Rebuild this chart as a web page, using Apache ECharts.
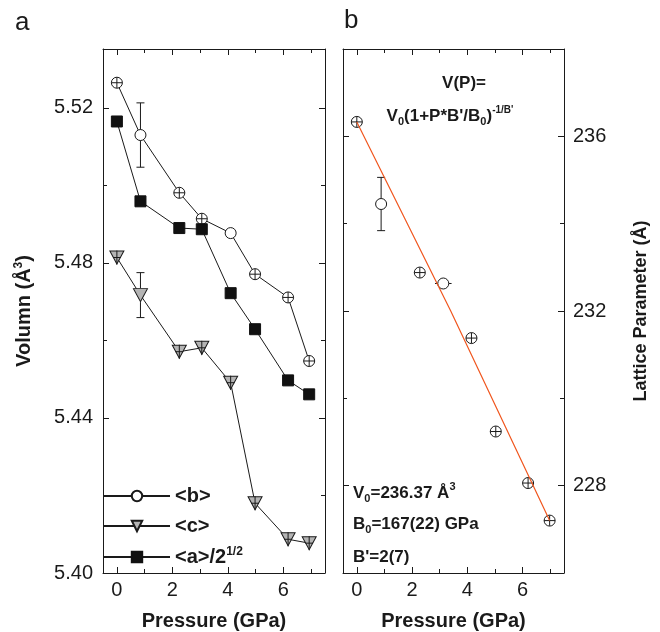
<!DOCTYPE html>
<html>
<head>
<meta charset="utf-8">
<script src="https://cdn.jsdelivr.net/npm/echarts@6/dist/echarts.min.js"></script>
<style>
html,body{margin:0;padding:0;background:#fff;}
#chart{width:660px;height:632px;}
</style>
</head>
<body>
<div id="chart"></div>
<script>
// ---- data (panel a) ----
const pressureA = [0, 0.85, 2.25, 3.06, 4.1, 4.98, 6.17, 6.93];
const bAxis = [5.5265, 5.5130, 5.4981, 5.4914, 5.4877, 5.4771, 5.4711, 5.4547];
const bErr  = [0.0014, 0.0083, 0.0014, 0.0014, 0, 0.0014, 0.0014, 0.0014];
const bPErr = [0.2, 0, 0.2, 0.2, 0, 0.2, 0.2, 0.2];
const cAxis = [5.4814, 5.4717, 5.4571, 5.4581, 5.4491, 5.4180, 5.4087, 5.4077];
const cErr  = [0.0018, 0.0058, 0.0018, 0.0018, 0.0018, 0.0018, 0.0018, 0.0018];
const cPErr = [0.14, 0, 0.14, 0.14, 0.14, 0.14, 0.14, 0.14];
const aAxis = [5.5165, 5.4959, 5.4890, 5.4887, 5.4722, 5.4629, 5.4497, 5.4461];
// ---- data (panel b) ----
const pressureV = [0, 0.88, 2.28, 3.13, 4.15, 5.03, 6.2, 6.98];
const volume    = [236.33, 234.45, 232.88, 232.63, 231.38, 229.24, 228.06, 227.2];
const volErr    = [0.12, 0.61, 0.12, 0, 0.12, 0.12, 0.12, 0.12];
const volPErr   = [0.2, 0, 0.2, 0.3, 0.2, 0.2, 0.2, 0.2];
const fitP = [0, 3.4, 6.98];
const fitV = [236.33, 232.0, 227.2];
// ---- tick labels ----
const leftYTicks = [5.40, 5.44, 5.48, 5.52];
const xTickLabels = [0, 2, 4, 6];

const FONT = '"Liberation Sans", Arial, Helvetica, sans-serif';
const INK = '#1a1a1a';

const zip = (xs, ys) => xs.map((x, i) => [x, ys[i]]);
const zip4 = (xs, ys, es, ps) => xs.map((x, i) => [x, ys[i], es[i], ps[i]]);

function errRender(r) {
  return function (params, api) {
    const x = api.value(0), y = api.value(1), ey = api.value(2), ex = api.value(3);
    const c = api.coord([x, y]);
    const st = { stroke: INK, lineWidth: 1, fill: null };
    const ch = [];
    const ln = (x1, y1, x2, y2) => ch.push({ type: 'line', shape: { x1, y1, x2, y2 }, style: st });
    if (ey > 0) {
      const top = api.coord([x, y + ey])[1];
      const bot = api.coord([x, y - ey])[1];
      const h = c[1] - top;
      if (h > r + 1) {
        ln(c[0], c[1] - r, c[0], top);
        ln(c[0], c[1] + r, c[0], bot);
        ln(c[0] - 4, top, c[0] + 4, top);
        ln(c[0] - 4, bot, c[0] + 4, bot);
      } else {
        ln(c[0], top, c[0], bot);
      }
    }
    if (ex > 0) {
      const lx = api.coord([x - ex, y])[0];
      const rx = api.coord([x + ex, y])[0];
      const w = c[0] - lx;
      if (w > r + 1) {
        ln(lx, c[1], c[0] - r, c[1]);
        ln(c[0] + r, c[1], rx, c[1]);
      } else {
        ln(lx, c[1], rx, c[1]);
      }
    }
    return { type: 'group', children: ch };
  };
}

const axisLineStyle = { color: INK, width: 1 };
function xAx(grid, pos, labels) {
  return {
    type: 'value', gridIndex: grid, position: pos, min: -0.5, max: 7.5,
    minInterval: 2, maxInterval: 2,
    axisLine: { show: true, onZero: false, lineStyle: axisLineStyle },
    axisTick: { show: true, inside: true, length: 6, lineStyle: axisLineStyle },
    minorTick: { show: true, splitNumber: 2, length: 4, lineStyle: axisLineStyle },
    splitLine: { show: false }, minorSplitLine: { show: false },
    axisLabel: {
      show: labels, showMinLabel: false, showMaxLabel: false, margin: 7,
      fontFamily: FONT, fontSize: 20, color: INK,
      formatter: v => (xTickLabels.indexOf(Math.round(v)) >= 0 && Math.abs(v - Math.round(v)) < 1e-6) ? String(Math.round(v)) : ''
    },
    name: labels ? 'Pressure (GPa)' : '', nameLocation: 'middle', nameGap: 38,
    nameTextStyle: { fontFamily: FONT, fontSize: 20, fontWeight: 'bold', color: INK }
  };
}

const option = {
  animation: false,
  backgroundColor: '#fff',
  grid: [
    { left: 103, top: 49, width: 222, height: 524, outerBoundsMode: 'none' },
    { left: 343, top: 49, width: 221, height: 524, outerBoundsMode: 'none' }
  ],
  xAxis: [xAx(0, 'bottom', true), xAx(0, 'top', false), xAx(1, 'bottom', true), xAx(1, 'top', false)],
  yAxis: [
    {
      type: 'value', gridIndex: 0, position: 'left', min: 5.40, max: 5.5352, interval: 0.04,
      axisLine: { show: true, onZero: false, lineStyle: axisLineStyle },
      axisTick: { show: true, inside: true, length: 6, lineStyle: axisLineStyle },
      minorTick: { show: true, splitNumber: 2, length: 4, lineStyle: axisLineStyle },
      splitLine: { show: false },
      axisLabel: {
        showMaxLabel: false, margin: 10, fontFamily: FONT, fontSize: 20, color: INK,
        formatter: v => leftYTicks.some(t => Math.abs(t - v) < 1e-6) ? v.toFixed(2) : ''
      },
      name: 'Volumn (Å{sup|3})', nameLocation: 'middle', nameGap: 68,
      nameTextStyle: { fontFamily: FONT, fontSize: 20, fontWeight: 'bold', color: INK,
        rich: { sup: { fontFamily: FONT, fontSize: 12, fontWeight: 'bold', color: INK, padding: [0, 0, 10, 0] } } }
    },
    {
      type: 'value', gridIndex: 0, position: 'right', min: 5.40, max: 5.5352, interval: 0.04,
      axisLine: { show: true, onZero: false, lineStyle: axisLineStyle },
      axisTick: { show: true, inside: true, length: 6, lineStyle: axisLineStyle },
      minorTick: { show: true, splitNumber: 2, length: 4, lineStyle: axisLineStyle },
      splitLine: { show: false }, axisLabel: { show: false }
    },
    {
      type: 'value', gridIndex: 1, position: 'right', min: 226, max: 238, minInterval: 4, maxInterval: 4,
      axisLine: { show: true, onZero: false, lineStyle: axisLineStyle },
      axisTick: { show: true, inside: true, length: 6, lineStyle: axisLineStyle },
      minorTick: { show: true, splitNumber: 2, length: 4, lineStyle: axisLineStyle },
      splitLine: { show: false },
      axisLabel: { showMinLabel: false, showMaxLabel: false, margin: 9, fontFamily: FONT, fontSize: 20, color: INK },
      name: 'Lattice Parameter (Å)', nameLocation: 'middle', nameGap: 68,
      nameTextStyle: { fontFamily: FONT, fontSize: 18, fontWeight: 'bold', color: INK }
    },
    {
      type: 'value', gridIndex: 1, position: 'left', min: 226, max: 238, minInterval: 4, maxInterval: 4,
      axisLine: { show: true, onZero: false, lineStyle: axisLineStyle },
      axisTick: { show: true, inside: true, length: 6, lineStyle: axisLineStyle },
      minorTick: { show: true, splitNumber: 2, length: 4, lineStyle: axisLineStyle },
      splitLine: { show: false }, axisLabel: { show: false }
    }
  ],
  legend: {
    data: ['<b>', '<c>', '<a>/2^1/2'],
    orient: 'vertical', left: 98, top: 481, itemWidth: 66, itemHeight: 13, itemGap: 10,
    textStyle: { fontFamily: FONT, fontSize: 20, fontWeight: 'bold', color: INK,
      rich: { sup: { fontFamily: FONT, fontSize: 12, fontWeight: 'bold', color: INK, padding: [0, 0, 10, 0] } } },
    formatter: n => n === '<a>/2^1/2' ? '<a>/2{sup|1/2}' : n,
    selectedMode: false
  },
  series: [
    {
      name: '<b>', type: 'line', xAxisIndex: 0, yAxisIndex: 0, data: zip(pressureA, bAxis),
      symbol: 'circle', symbolSize: 11,
      itemStyle: { color: '#fff', borderColor: INK, borderWidth: 1 },
      lineStyle: { color: INK, width: 1 }, z: 2
    },
    {
      name: '<c>', type: 'line', xAxisIndex: 0, yAxisIndex: 0, data: zip(pressureA, cAxis),
      symbol: 'triangle', symbolRotate: 180, symbolSize: [14, 13],
      itemStyle: { color: '#b4b4b4', borderColor: INK, borderWidth: 1 },
      lineStyle: { color: INK, width: 1 }, z: 2
    },
    {
      name: '<a>/2^1/2', type: 'line', xAxisIndex: 0, yAxisIndex: 0, data: zip(pressureA, aAxis),
      symbol: 'rect', symbolSize: 11,
      itemStyle: { color: '#111', borderColor: '#111', borderWidth: 1 },
      lineStyle: { color: INK, width: 1 }, z: 2
    },
    {
      type: 'custom', xAxisIndex: 0, yAxisIndex: 0, renderItem: errRender(5.5),
      encode: { x: 0, y: 1 }, data: zip4(pressureA, bAxis, bErr, bPErr), z: 4, silent: true
    },
    {
      type: 'custom', xAxisIndex: 0, yAxisIndex: 0, renderItem: errRender(7),
      encode: { x: 0, y: 1 }, data: zip4(pressureA, cAxis, cErr, cPErr), z: 4, silent: true
    },
    {
      name: 'V', type: 'scatter', xAxisIndex: 2, yAxisIndex: 2, data: zip(pressureV, volume),
      symbol: 'circle', symbolSize: 11,
      itemStyle: { color: '#fff', borderColor: INK, borderWidth: 1, opacity: 1 }, z: 2
    },
    {
      type: 'custom', xAxisIndex: 2, yAxisIndex: 2, renderItem: errRender(5.5),
      encode: { x: 0, y: 1 }, data: zip4(pressureV, volume, volErr, volPErr), z: 4, silent: true
    },
    {
      name: 'fit', type: 'line', xAxisIndex: 2, yAxisIndex: 2, data: zip(fitP, fitV),
      symbol: 'none', lineStyle: { color: '#f0561e', width: 1.2 }, z: 5
    }
  ],
  graphic: [
    { type: 'text', left: 15, top: 10, style: { text: 'a', font: '26px ' + FONT, fill: INK } },
    { type: 'text', left: 344, top: 8, style: { text: 'b', font: '26px ' + FONT, fill: INK } },
    { type: 'text', x: 464, y: 83, style: { text: 'V(P)=', font: 'bold 17px ' + FONT, fill: INK, align: 'center', verticalAlign: 'middle' } },
    { type: 'text', x: 450, y: 116, style: {
        text: 'V{sub|0}(1+P*B\'/B{sub|0}){sup|-1/B\'}', font: 'bold 17px ' + FONT, fill: INK,
        align: 'center', verticalAlign: 'middle',
        rich: {
          sub: { font: 'bold 11px ' + FONT, fill: INK, padding: [12, 0, 0, 0] },
          sup: { font: 'bold 10px ' + FONT, fill: INK, padding: [0, 0, 12, 0] }
        } } },
    { type: 'text', x: 353, y: 493, style: {
        text: 'V{sub|0}=236.37 Å{sup|3}', font: 'bold 17px ' + FONT, fill: INK, align: 'left', verticalAlign: 'middle',
        rich: { sub: { font: 'bold 11px ' + FONT, fill: INK, padding: [12, 0, 0, 0] },
                sup: { font: 'bold 11px ' + FONT, fill: INK, padding: [0, 0, 12, 0] } } } },
    { type: 'text', x: 353, y: 524, style: {
        text: 'B{sub|0}=167(22) GPa', font: 'bold 17px ' + FONT, fill: INK, align: 'left', verticalAlign: 'middle',
        rich: { sub: { font: 'bold 11px ' + FONT, fill: INK, padding: [12, 0, 0, 0] } } } },
    { type: 'text', x: 353, y: 557, style: { text: 'B\'=2(7)', font: 'bold 17px ' + FONT, fill: INK, align: 'left', verticalAlign: 'middle' } }
  ]
};

const chart = echarts.init(document.getElementById('chart'), null, { renderer: 'canvas' });
chart.setOption(option);
</script>
</body>
</html>
